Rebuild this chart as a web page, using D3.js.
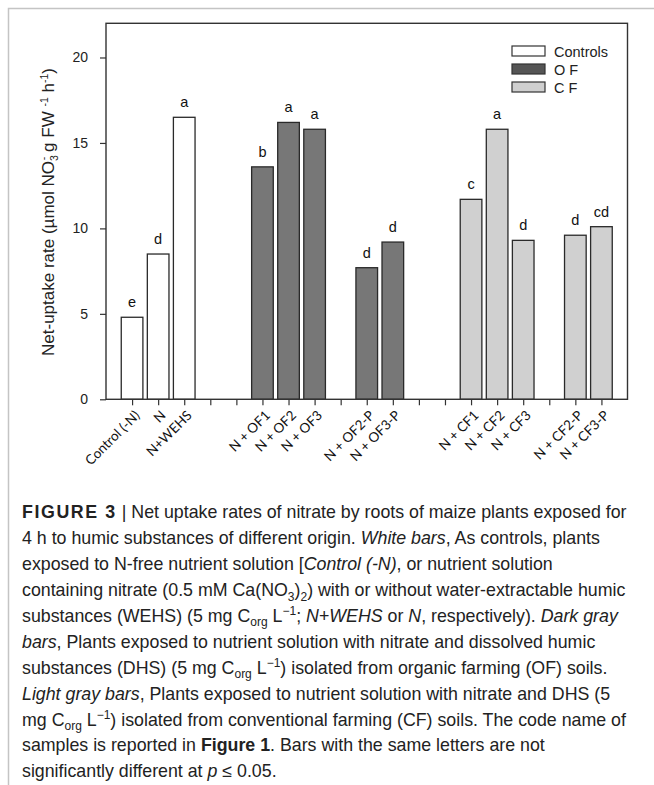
<!DOCTYPE html>
<html>
<head>
<meta charset="utf-8">
<script src="https://cdn.jsdelivr.net/npm/d3@7"></script>
<style>
  html, body { margin: 0; padding: 0; background: #fff; }
  svg { display: block; }
</style>
</head>
<body>
<svg id="fig" width="654" height="785"></svg>
<script>
// Axis slots along x (empty strings are spacer positions between groups)
const tickLabels = ["Control (-N)", "N", "N+WEHS", "", "", "N + OF1", "N + OF2", "N + OF3", "",
  "N + OF2-P", "N + OF3-P", "", "", "N + CF1", "N + CF2", "N + CF3", "", "N + CF2-P", "N + CF3-P"];

// Treatments, their net nitrate uptake rates and significance letters
const treatments = ["Control (-N)", "N", "N+WEHS", "N + OF1", "N + OF2", "N + OF3", "N + OF2-P", "N + OF3-P",
  "N + CF1", "N + CF2", "N + CF3", "N + CF2-P", "N + CF3-P"];
const uptake = [4.8, 8.5, 16.5, 13.6, 16.2, 15.8, 7.7, 9.2, 11.7, 15.8, 9.3, 9.6, 10.1];
const letters = ["e", "d", "a", "b", "a", "a", "d", "d", "c", "a", "d", "d", "cd"];
const groupOf = ["Controls", "Controls", "Controls", "O F", "O F", "O F", "O F", "O F",
  "C F", "C F", "C F", "C F", "C F"];

const groupNames = ["Controls", "O F", "C F"];
const yTicks = [0, 5, 10, 15, 20];

const svg = d3.select("#fig");

// outer figure frame (top and left rules)
svg.append("path")
  .attr("d", "M8.5,785 V8.5 H654")
  .attr("fill", "none").attr("stroke", "#c4c4c4").attr("stroke-width", 1.5);

const plot = { left: 106, right: 627.5, top: 23.3, bottom: 399.3 };

const x = d3.scalePoint()
  .domain(d3.range(tickLabels.length))
  .range([plot.left, plot.right])
  .padding(1);
const step = x.step();
const barW = step * 0.83;

const y = d3.scaleLinear().domain([0, 22]).range([plot.bottom, plot.top]);

const fill = d3.scaleOrdinal().domain(groupNames).range(["#ffffff", "#777777", "#d0d0d0"]);
const legendFill = d3.scaleOrdinal().domain(groupNames).range(["#ffffff", "#555555", "#cfcfcf"]);

const chartFont = "'Liberation Sans', Arial, sans-serif";

// bars
const data = treatments.map((t, i) => ({ t, v: uptake[i], l: letters[i], g: groupOf[i] }));

svg.append("g").selectAll("rect").data(data).join("rect")
  .attr("x", d => x(tickLabels.indexOf(d.t)) - barW / 2)
  .attr("y", d => y(d.v))
  .attr("width", barW)
  .attr("height", d => y(0) - y(d.v))
  .attr("fill", d => fill(d.g))
  .attr("stroke", "#2a2a2a")
  .attr("stroke-width", 1.3);

// significance letters
svg.append("g").selectAll("text").data(data).join("text")
  .attr("x", d => x(tickLabels.indexOf(d.t)))
  .attr("y", d => y(d.v) - 10)
  .attr("text-anchor", "middle")
  .attr("font-family", chartFont)
  .attr("font-size", 14.5)
  .attr("fill", "#111")
  .text(d => d.l);

// plot frame
svg.append("rect")
  .attr("x", plot.left).attr("y", plot.top)
  .attr("width", plot.right - plot.left).attr("height", plot.bottom - plot.top)
  .attr("fill", "none").attr("stroke", "#333").attr("stroke-width", 1.4);

// y axis
const yAxis = svg.append("g")
  .attr("transform", `translate(${plot.left},0)`)
  .call(d3.axisLeft(y).tickValues(yTicks).tickSize(6).tickPadding(12));
yAxis.select(".domain").remove();
yAxis.selectAll(".tick line").attr("stroke", "#333").attr("stroke-width", 1.2);
yAxis.selectAll(".tick text")
  .attr("font-family", chartFont).attr("font-size", 14).attr("fill", "#222");

// x axis
const xAxis = svg.append("g")
  .attr("transform", `translate(0,${plot.bottom})`)
  .call(d3.axisBottom(x).tickSize(6).tickFormat(i => tickLabels[i]));
xAxis.select(".domain").remove();
xAxis.selectAll(".tick line").attr("stroke", "#333").attr("stroke-width", 1.2);
xAxis.selectAll(".tick text")
  .attr("font-family", "Lato, 'Open Sans', sans-serif")
  .attr("font-size", 13.5)
  .attr("fill", "#111")
  .attr("text-anchor", "end")
  .attr("dy", null)
  .attr("y", 0)
  .attr("transform", "translate(8,17) rotate(-45)");

// y axis title
const yTitle = svg.append("text")
  .attr("transform", `translate(53.5,212) rotate(-90)`)
  .attr("text-anchor", "middle")
  .attr("font-family", chartFont)
  .attr("font-size", 17)
  .attr("fill", "#222");
yTitle.append("tspan").text("Net-uptake rate (µmol NO");
yTitle.append("tspan").attr("font-size", 10.5).attr("dy", 4).text("3");
yTitle.append("tspan").attr("font-size", 10.5).attr("dx", -5).attr("dy", -11).text("-");
yTitle.append("tspan").attr("dy", 7).text(" g FW ");
yTitle.append("tspan").attr("font-size", 10.5).attr("dy", -6).text("-1");
yTitle.append("tspan").attr("dy", 6).text(" h");
yTitle.append("tspan").attr("font-size", 10.5).attr("dy", -6).text("-1");
yTitle.append("tspan").attr("dy", 6).text(")");

// legend
const legend = svg.append("g").attr("transform", "translate(512,46)");
const lg = legend.selectAll("g").data(groupNames).join("g")
  .attr("transform", (d, i) => `translate(0,${i * 18})`);
lg.append("rect")
  .attr("width", 33).attr("height", 10)
  .attr("fill", d => legendFill(d))
  .attr("stroke", "#333").attr("stroke-width", 1.2);
lg.append("text")
  .attr("x", 42).attr("y", 10.5)
  .attr("font-family", chartFont).attr("font-size", 14.5).attr("fill", "#222")
  .text(d => d);

// caption
const capFont = "'Liberation Sans', Arial, sans-serif";
const captionLines = [
  [["b", "FIGURE 3"], ["", " | Net uptake rates of nitrate by roots of maize plants exposed for"]],
  [["", "4 h to humic substances of different origin. "], ["i", "White bars"], ["", ", As controls, plants"]],
  [["", "exposed to N-free nutrient solution ["], ["i", "Control (-N)"], ["", ", or nutrient solution"]],
  [["", "containing nitrate (0.5 mM Ca(NO"], ["sub", "3"], ["", ")"], ["sub", "2"], ["", ") with or without water-extractable humic"]],
  [["", "substances (WEHS) (5 mg C"], ["sub", "org"], ["", " L"], ["sup", "−1"], ["", "; "], ["i", "N+WEHS"], ["", " or "], ["i", "N"], ["", ", respectively). "], ["i", "Dark gray"]],
  [["i", "bars"], ["", ", Plants exposed to nutrient solution with nitrate and dissolved humic"]],
  [["", "substances (DHS) (5 mg C"], ["sub", "org"], ["", " L"], ["sup", "−1"], ["", ") isolated from organic farming (OF) soils."]],
  [["i", "Light gray bars"], ["", ", Plants exposed to nutrient solution with nitrate and DHS (5"]],
  [["", "mg C"], ["sub", "org"], ["", " L"], ["sup", "−1"], ["", ") isolated from conventional farming (CF) soils. The code name of"]],
  [["", "samples is reported in "], ["b", "Figure 1"], ["", ". Bars with the same letters are not"]],
  [["", "significantly different at "], ["i", "p"], ["", " ≤ 0.05."]]
];

const cap = svg.append("g")
  .attr("font-family", capFont).attr("font-size", 17.8).attr("fill", "#222");
captionLines.forEach((parts, li) => {
  const t = cap.append("text").attr("x", 22).attr("y", 518.3 + li * 25.9);
  let shift = 0;
  parts.forEach(([kind, str]) => {
    const ts = t.append("tspan").text(str);
    let target = 0;
    if (kind === "b") ts.attr("font-weight", "bold");
    if (kind === "i") ts.attr("font-style", "italic");
    if (kind === "sub") { ts.attr("font-size", 12); target = 4.5; }
    if (kind === "sup") { ts.attr("font-size", 12); target = -6.5; }
    if (target !== shift) ts.attr("dy", target - shift);
    shift = target;
  });
});
// heavier, wider figure label
cap.select("text tspan").attr("letter-spacing", 1.6);
</script>
</body>
</html>
